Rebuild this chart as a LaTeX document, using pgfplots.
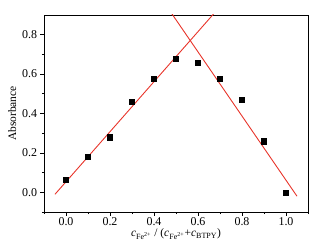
\documentclass[border=0pt]{standalone}
\usepackage{pgfplots}
\pgfplotsset{compat=1.18}
\usepackage{fontspec}
\setmainfont{Liberation Serif}
\definecolor{fitred}{RGB}{232,52,42}
\begin{document}
\begin{tikzpicture}
\begin{axis}[name=a,
  scale only axis, width=264bp, height=197bp,
  xmin=-0.1, xmax=1.1, ymin=-0.1, ymax=0.9,
  xtick={0,0.2,...,1.0}, ytick={0,0.2,...,0.8},
  minor xtick={-0.1,0.1,0.3,0.5,0.7,0.9,1.1},
  minor ytick={-0.1,0.1,0.3,0.5,0.7},
  xticklabel style={yshift=1bp,/pgf/number format/.cd,fixed,fixed zerofill,precision=1},
  yticklabel style={/pgf/number format/.cd,fixed,fixed zerofill,precision=1},
  /pgf/number format/assume math mode=true,
  tick align=outside, tick pos=left,
  major tick length=3.5bp, minor tick length=2bp,
  tick style={black, line width=0.7pt},
  axis line style={line width=0.8pt},
  ticklabel style={font=\fontsize{12}{14}\selectfont},
  xlabel={\textit{c}\textsubscript{\fontsize{8}{9}\selectfont Fe\textsuperscript{2+}} / (\textit{c}\textsubscript{\fontsize{8}{9}\selectfont Fe\textsuperscript{2+}}+\textit{c}\textsubscript{\fontsize{8}{9}\selectfont BTPY})},
  ylabel={Absorbance},
  label style={font=\fontsize{11.5}{13}\selectfont},
  xlabel style={yshift=4bp},
  ylabel style={yshift=-1bp},
  clip=true,
]
\addplot[fitred, line width=0.9pt] coordinates {(-0.05,-0.01) (0.75,1.006)};
\addplot[fitred, line width=0.9pt] coordinates {(0.42,1.006) (1.05,-0.02)};
\addplot[only marks, mark=square*, mark size=2.6bp, black] coordinates {
(0.0,0.063) (0.1,0.18) (0.2,0.28) (0.3,0.46) (0.4,0.577) (0.5,0.68)
(0.6,0.657) (0.7,0.575) (0.8,0.47) (0.9,0.259) (1.0,0.0)};
\end{axis}
\path[use as bounding box] ([xshift=-44bp,yshift=-36bp]a.south west) rectangle ([xshift=18bp,yshift=15bp]a.north east);
\end{tikzpicture}
\end{document}
